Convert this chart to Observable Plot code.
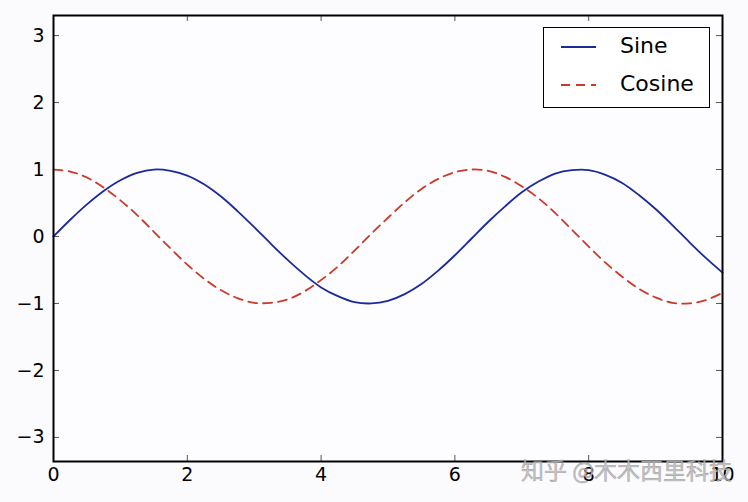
<!DOCTYPE html>
<html>
<head>
<meta charset="utf-8">
<script src="https://cdn.jsdelivr.net/npm/d3@7"></script>
<script src="https://cdn.jsdelivr.net/npm/@observablehq/plot@0.6"></script>
<style>
  html, body { margin: 0; padding: 0; background: #fbfafd; }
  #wrap { position: relative; width: 748px; height: 502px; font-family: "DejaVu Sans", sans-serif; }
  #wrap > svg text { font-size: 19px !important; font-family: "DejaVu Sans", sans-serif !important; }
  #legend { position: absolute; left: 543px; top: 27px; width: 165px; height: 79px; background: #ffffff; border: 1.5px solid #000; }
  #legend svg { position: absolute; left: 0; top: 0; }
  .lab { position: absolute; left: 76px; font-size: 22px; color: #000; }
  #wm { position: absolute; left: 521px; top: 452px; font-family: "Noto Sans CJK SC", sans-serif; font-size: 23px; color: rgba(190,190,190,0.85); -webkit-text-stroke: 0.6px rgba(120,120,120,0.5); white-space: nowrap; }
</style>
</head>
<body>
<div id="wrap"></div>
<script>
const xs = [0,0.25,0.5,0.75,1,1.25,1.5,1.75,2,2.25,2.5,2.75,3,3.25,3.5,3.75,4,4.25,4.5,4.75,5,5.25,5.5,5.75,6,6.25,6.5,6.75,7,7.25,7.5,7.75,8,8.25,8.5,8.75,9,9.25,9.5,9.75,10];
const sineVals = [0,0.25,0.48,0.68,0.84,0.95,1.00,0.98,0.91,0.78,0.60,0.38,0.14,-0.11,-0.35,-0.57,-0.76,-0.89,-0.98,-1.00,-0.96,-0.86,-0.71,-0.51,-0.28,-0.03,0.22,0.45,0.66,0.82,0.94,0.99,0.99,0.92,0.80,0.62,0.41,0.17,-0.08,-0.32,-0.54];
const cosineVals = [1.00,0.97,0.88,0.73,0.54,0.32,0.07,-0.18,-0.42,-0.63,-0.80,-0.92,-0.99,-0.99,-0.94,-0.82,-0.65,-0.45,-0.21,0.04,0.28,0.51,0.71,0.86,0.96,1.00,0.98,0.89,0.75,0.57,0.35,0.10,-0.15,-0.39,-0.60,-0.78,-0.91,-0.99,-1.00,-0.95,-0.84];
const seriesNames = ["Sine", "Cosine"];
const xTicks = [0,2,4,6,8,10];
const yTicks = [-3,-2,-1,0,1,2,3];
const watermark = "知乎 @木木西里科技";

const sineColor = "#1a2a9c";
const cosColor = "#cc3a26";

const sine = xs.map((x,i) => ({x, y: sineVals[i]}));
const cosine = xs.map((x,i) => ({x, y: cosineVals[i]}));

const W = 748, H = 502, mL = 53, mR = 26, mT = 15, mB = 41;
const pw = W - mL - mR, ph = H - mT - mB;
const tickLen = 6;
const tickColor = "#555";

const chart = Plot.plot({
  width: W, height: H,
  marginLeft: mL, marginRight: mR, marginTop: mT, marginBottom: mB,
  style: { background: "transparent", fontFamily: "DejaVu Sans, sans-serif", fontSize: "19px", color: "#000" },
  x: { domain: [0, 10] },
  y: { domain: [-3.36, 3.3] },
  marks: [
    Plot.frame({ fill: "#fdfcff" }),
    Plot.axisX(xTicks, { tickSize: 0, tickPadding: 6, label: null, fontSize: 19, tickFormat: d => String(d) }),
    Plot.axisY(yTicks, { tickSize: 0, tickPadding: 9, label: null, fontSize: 19, tickFormat: d => d < 0 ? "\u2212" + Math.abs(d) : String(d) }),
    Plot.tickY(yTicks, { y: d => d, insetRight: pw - tickLen, stroke: tickColor }),
    Plot.tickY(yTicks, { y: d => d, insetLeft: pw - tickLen, stroke: tickColor }),
    Plot.tickX(xTicks, { x: d => d, insetTop: ph - tickLen, stroke: tickColor }),
    Plot.tickX(xTicks, { x: d => d, insetBottom: ph - tickLen, stroke: tickColor }),
    Plot.line(cosine, { x: "x", y: "y", stroke: cosColor, strokeWidth: 1.8, strokeDasharray: "9,6", curve: "catmull-rom" }),
    Plot.line(sine, { x: "x", y: "y", stroke: sineColor, strokeWidth: 1.8, curve: "catmull-rom" }),
    Plot.frame({ stroke: "#000", strokeWidth: 2 })
  ]
});

const wrap = document.getElementById("wrap");
wrap.appendChild(chart);

const leg = document.createElement("div");
leg.id = "legend";
leg.innerHTML = `
<svg width="165" height="79">
  <line x1="17" x2="52" y1="19" y2="19" stroke="${sineColor}" stroke-width="1.8"/>
  <line x1="17" x2="52" y1="57" y2="57" stroke="${cosColor}" stroke-width="1.8" stroke-dasharray="9,6"/>
</svg>
<div class="lab" style="top:5px">${seriesNames[0]}</div>
<div class="lab" style="top:43px">${seriesNames[1]}</div>`;
wrap.appendChild(leg);

const wm = document.createElement("div");
wm.id = "wm";
wm.textContent = watermark;
wrap.appendChild(wm);
</script>
</body>
</html>
